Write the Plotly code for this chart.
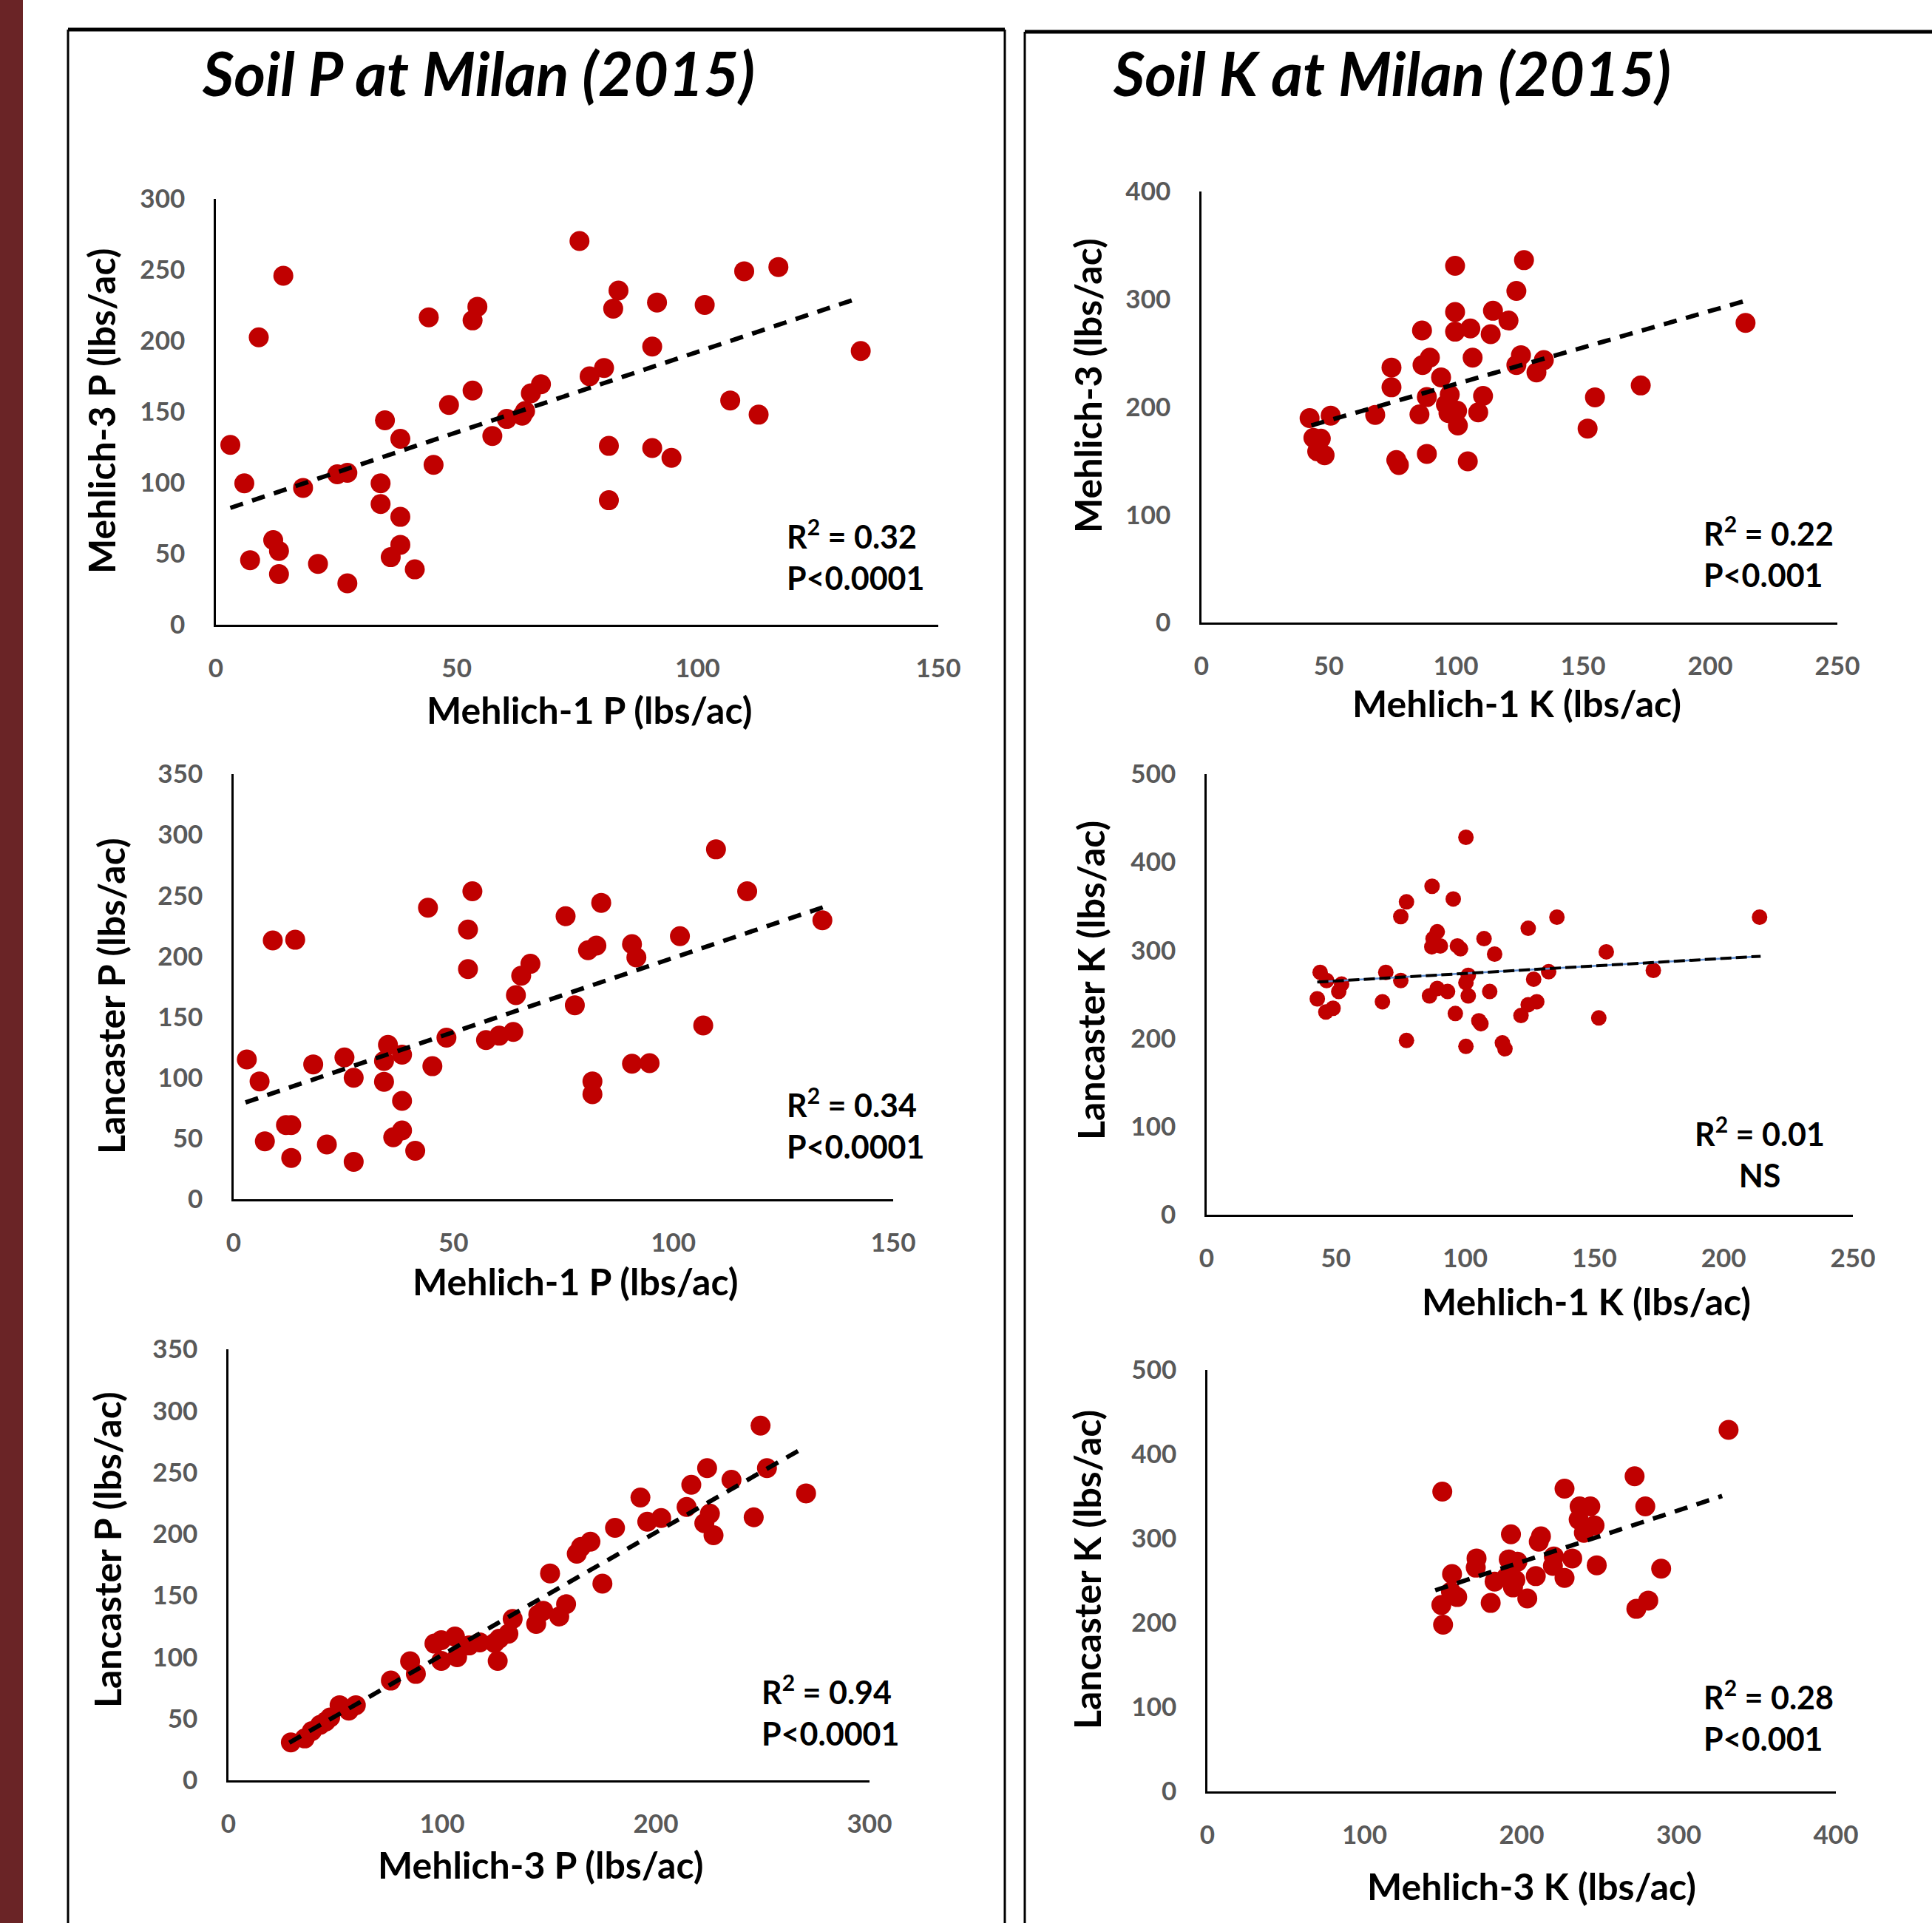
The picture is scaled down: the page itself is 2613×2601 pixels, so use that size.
import plotly.graph_objects as go

W, H = 2613, 2601

# ---------------- Soil P data (shared observations) ----------------
m1p = [3.0, 5.9, 7.1, 8.9, 14.0, 11.9, 13.1, 13.1, 18.1, 21.2, 25.2, 27.3, 27.3, 34.2, 34.2,
       35.1, 36.3, 38.3, 38.3, 38.3, 41.3, 44.2, 45.2, 48.4, 53.3, 53.3, 54.3, 57.4, 60.4, 63.6,
       64.2, 65.4, 67.5, 75.5, 77.6, 80.6, 81.6, 81.6, 82.5, 83.6, 90.6, 90.6, 91.6, 94.6, 101.5,
       106.8, 109.7, 112.7, 116.8, 133.9]
m3p = [126.7, 99.6, 45.5, 202.5, 245.8, 59.6, 52, 35.7, 96.4, 42.9, 106, 107, 29.2, 99.6, 85,
       144, 47.6, 131, 76, 56.3, 39, 216.6, 112.6, 154.8, 165, 214.4, 224, 133, 145, 147.3,
       150.5, 163, 169.4, 270.3, 175, 180.9, 126, 87.7, 222.7, 235.4, 124.5, 196, 227, 117.6, 225.3,
       158, 249, 148, 252, 192.8]
lanp = [115, 97, 47.7, 213, 213.6, 61, 61, 34, 111, 45, 116.7, 100, 30.8, 113.8, 96.7,
        127, 51, 119, 81, 56.6, 39.9, 240, 109.5, 133, 189.5, 222, 253.5, 131, 134.6, 137.7,
        168, 184, 193.8, 233, 159.7, 205, 97, 86.4, 208.8, 244, 111.5, 210, 199, 112, 216.5,
        143, 288, None, 253.5, 229.6]

# ---------------- Soil K data (read per panel) ----------------
m1k_a = [42.5, 50.8, 44.0, 46.9, 45.5, 48.4, 68.3, 74.7, 74.7, 76.6, 77.6, 86.7, 85.7, 88.6, 86.9,
         89.8, 88.6, 94.2, 97.6, 96.1, 97.1, 99.7, 99.7, 99.7, 100.5, 100.8, 104.7, 105.7, 106.6,
         108.8, 110.7, 113.7, 114.6, 120.7, 123.8, 123.8, 125.6, 126.8, 131.7, 134.6, 151.8, 154.7,
         172.7, 213.9]
m3k_a = [189.7, 192, 171.4, 170.7, 158.8, 155.3, 192.7, 236.6, 218.3, 150.7, 146.2, 271, 193.1,
         156.5, 239, 245.8, 209.2, 227.5, 211.5, 202.3, 194.3, 331, 288.2, 269.9, 196.6, 182.8,
         149.6, 272.9, 245.8, 195, 210.3, 267.6, 289.3, 280.2, 307.7, 239, 248.1, 336.3, 232.1,
         243.5, 180, 209, 220, 278]

m1k_b = [43.9, 46.4, 52.2, 51.1, 42.8, 46.1, 48.9, 69.3, 68.0, 75.1, 77.3, 75.1, 77.3, 87.2, 95.4,
         89.2, 87.6, 87.1, 90.4, 97.0, 98.2, 107.3, 111.4, 124.4, 135.5, 100.3, 101.2, 100.3, 89.2,
         93.2, 86.2, 101.2, 109.5, 126.5, 132.3, 96.2, 105.3, 106.1, 121.6, 124.4, 127.7, 100.3,
         114.4, 115.4, 154.6, 151.7, 172.8, 213.9]
lank_b = [275, 265.7, 261.7, 253.3, 245, 230, 234.3, 275, 241.7, 265.7, 355, 338.3, 197.7, 372.7,
          358.3, 321, 313.3, 304, 305, 305, 301.7, 313.3, 295.7, 325, 337.7, 428.3, 271.7, 263.3,
          256.7, 253.3, 248.3, 248.3, 253.3, 267.3, 275.7, 228.3, 220, 216.7, 226, 238.3, 241.7,
          191, 195, 188.3, 298.3, 223.3, 277.3, 337.7]

m3k_c = [149.5, 150.0, 148.9, 155.7, 159.0, 155.0, 171.3, 170.8, 180.3, 193.2, 191.8, 197.3, 182.8,
         190.4, 194.5, 196.0, 203.6, 209.0, 210.9, 212.3, 219.9, 220.5, 227.3, 232.2, 227.3, 236.9,
         243.7, 236.3, 246.4, 239.6, 247.8, 271.9, 278.7, 288.8, 280.6, 273.0, 331.7]
lank_c = [355.7, 197.8, 221.2, 257.9, 230.6, 237, 276.4, 265.5, 223.6, 305, 275.3, 272.5, 249,
          254.4, 242, 250.9, 228.9, 255.4, 296.3, 302.6, 267.6, 278.8, 253.3, 276.4, 359.2, 338.2,
          338.2, 322.5, 315.5, 306.8, 268.3, 373.9, 338.2, 264.2, 226.4, 216.6, 429]

# ---------------- trendline end points ----------------
fit_tl_x, fit_tl_y = [3.0, 133.0], [82.3, 229.6]
fit_ml_x, fit_ml_y = [2.7, 134.0], [79.7, 240.3]
fit_bl_x, fit_bl_y = [28.5, 267.3], [30.6, 268.2]
fit_tr_x, fit_tr_y = [43.2, 214.0], [182.9, 298.6]
fit_mr_x, fit_mr_y = [42.8, 214.3], [264.0, 293.3]
fit_br_x, fit_br_y = [145.0, 327.6], [238.6, 350.5]

# ---------------- text ----------------
titles = ["Soil P at Milan (2015)", "Soil K at Milan (2015)"]
x_titles = ["Mehlich-1 P (lbs/ac)", "Mehlich-1 P (lbs/ac)", "Mehlich-3 P (lbs/ac)",
            "Mehlich-1 K (lbs/ac)", "Mehlich-1 K (lbs/ac)", "Mehlich-3 K (lbs/ac)"]
y_titles = ["Mehlich-3 P (lbs/ac)", "Lancaster P (lbs/ac)", "Lancaster P (lbs/ac)",
            "Mehlich-3 (lbs/ac)", "Lancaster K (lbs/ac)", "Lancaster K (lbs/ac)"]
stats = ["R<sup>2</sup> = 0.32<br>P&lt;0.0001", "R<sup>2</sup> = 0.34<br>P&lt;0.0001",
         "R<sup>2</sup> = 0.94<br>P&lt;0.0001", "R<sup>2</sup> = 0.22<br>P&lt;0.001",
         "R<sup>2</sup> = 0.01<br>NS", "R<sup>2</sup> = 0.28<br>P&lt;0.001"]
x_ticks = [[0, 50, 100, 150], [0, 50, 100, 150], [0, 100, 200, 300],
           [0, 50, 100, 150, 200, 250], [0, 50, 100, 150, 200, 250], [0, 100, 200, 300, 400]]
y_ticks = [[0, 50, 100, 150, 200, 250, 300], [0, 50, 100, 150, 200, 250, 300, 350],
           [0, 50, 100, 150, 200, 250, 300, 350], [0, 100, 200, 300, 400],
           [0, 100, 200, 300, 400, 500], [0, 100, 200, 300, 400, 500]]

RED = "#C00000"
FONT = "Lato"


def fx(p):
    return p / W


def fy(p):
    return 1 - p / H


# panel layout in pixels: (x_left, x_right, y_bottom, y_top)
panels = [
    dict(px=(292, 1269), py=(845, 269), data=(m1p, m3p), fit=(fit_tl_x, fit_tl_y), ms=27,
         xt=(797, 960), yt=(137, 556), st=(1062, 750, "left"), lw=6),
    dict(px=(316, 1208), py=(1622, 1047), data=(m1p, lanp), fit=(fit_ml_x, fit_ml_y), ms=27,
         xt=(778, 1733), yt=(150, 1347), st=(1062, 1520, "left"), lw=6),
    dict(px=(309, 1176), py=(2408, 1825), data=(m3p, lanp), fit=(fit_bl_x, fit_bl_y), ms=27,
         xt=(731, 2522), yt=(145, 2096), st=(1028, 2313, "left"), lw=6),
    dict(px=(1625, 2485), py=(842, 259), data=(m1k_a, m3k_a), fit=(fit_tr_x, fit_tr_y), ms=27,
         xt=(2051, 951), yt=(1471, 522), st=(2302, 746, "left"), lw=6),
    dict(px=(1632, 2506), py=(1643, 1047), data=(m1k_b, lank_b), fit=(fit_mr_x, fit_mr_y), ms=21,
         xt=(2145, 1760), yt=(1475, 1326), st=(2380, 1558, "center"), lw=4),
    dict(px=(1633, 2483), py=(2423, 1853), data=(m3k_c, lank_c), fit=(fit_br_x, fit_br_y), ms=27,
         xt=(2071, 2551), yt=(1470, 2123), st=(2302, 2320, "left"), lw=6),
]

fig = go.Figure()
annotations = []
layout = {}

for i, p in enumerate(panels):
    k = i + 1
    xa = "x" if k == 1 else f"x{k}"
    ya = "y" if k == 1 else f"y{k}"
    xt_vals, yt_vals = x_ticks[i], y_ticks[i]
    layout["xaxis" if k == 1 else f"xaxis{k}"] = dict(
        domain=[fx(p["px"][0]), fx(p["px"][1])], range=[0, xt_vals[-1]], anchor=ya,
        showline=True, linecolor="black", linewidth=2.5, showgrid=False, zeroline=False,
        automargin=False, ticks="", tickvals=xt_vals, ticklabelstandoff=26,
        tickfont=dict(family=FONT, size=35, color="#595959", weight="bold"))
    layout["yaxis" if k == 1 else f"yaxis{k}"] = dict(
        domain=[fy(p["py"][0]), fy(p["py"][1])], range=[0, yt_vals[-1]], anchor=xa,
        showline=True, linecolor="black", linewidth=2.5, showgrid=False, zeroline=False,
        automargin=False, ticks="", tickvals=yt_vals, ticklabelstandoff=32,
        tickfont=dict(family=FONT, size=35, color="#595959", weight="bold"))

    xs, ys = p["data"]
    fig.add_trace(go.Scatter(x=xs, y=ys, mode="markers", xaxis=xa, yaxis=ya,
                             marker=dict(color=RED, size=p["ms"], line=dict(width=0)),
                             cliponaxis=False, hoverinfo="skip"))
    if i == 4:
        fig.add_trace(go.Scatter(x=p["fit"][0], y=p["fit"][1], mode="lines", xaxis=xa, yaxis=ya,
                                 line=dict(color="#5B8BD0", width=2.5), hoverinfo="skip"))
        dash = "15px,6px"
    else:
        dash = "18px,13px"
    fig.add_trace(go.Scatter(x=p["fit"][0], y=p["fit"][1], mode="lines", xaxis=xa, yaxis=ya,
                             line=dict(color="black", width=p["lw"], dash=dash),
                             hoverinfo="skip"))

    annotations.append(dict(x=fx(p["xt"][0]), y=fy(p["xt"][1]), xref="paper", yref="paper",
                            text=x_titles[i], showarrow=False, xanchor="center", yanchor="middle",
                            font=dict(family=FONT, size=50, color="black", weight="bold")))
    annotations.append(dict(x=fx(p["yt"][0]), y=fy(p["yt"][1]), xref="paper", yref="paper",
                            text=y_titles[i], showarrow=False, xanchor="center", yanchor="middle",
                            textangle=-90,
                            font=dict(family=FONT, size=50, color="black", weight="bold")))
    sx, sy, al = p["st"]
    annotations.append(dict(x=fx(sx), y=fy(sy), xref="paper", yref="paper", text=stats[i],
                            showarrow=False, xanchor=al, yanchor="middle", align=al,
                            font=dict(family=FONT, size=43, color="black", weight="bold")))

for t, cx in zip(titles, [647, 1882]):
    annotations.append(dict(x=fx(cx), y=fy(98), xref="paper", yref="paper", text=t,
                            showarrow=False, xanchor="center", yanchor="middle",
                            font=dict(family=FONT, size=82, color="black", weight="bold",
                                      style="italic")))

shapes = [
    dict(type="rect", xref="paper", yref="paper", x0=0, x1=fx(31), y0=0, y1=1,
         fillcolor="#6A2426", line=dict(width=0), layer="below"),
    # left panel box
    dict(type="line", xref="paper", yref="paper", x0=fx(92), x1=fx(1359), y0=fy(40), y1=fy(40),
         line=dict(color="black", width=5)),
    dict(type="line", xref="paper", yref="paper", x0=fx(92), x1=fx(92), y0=fy(40), y1=0,
         line=dict(color="black", width=3)),
    dict(type="line", xref="paper", yref="paper", x0=fx(1359), x1=fx(1359), y0=fy(40), y1=0,
         line=dict(color="black", width=3)),
    # right panel box
    dict(type="line", xref="paper", yref="paper", x0=fx(1386), x1=1, y0=fy(43), y1=fy(43),
         line=dict(color="black", width=5)),
    dict(type="line", xref="paper", yref="paper", x0=fx(1386), x1=fx(1386), y0=fy(43), y1=0,
         line=dict(color="black", width=3)),
]

fig.update_layout(**layout)
fig.update_layout(width=W, height=H, autosize=False,
                  margin=dict(l=0, r=0, t=0, b=0, pad=0, autoexpand=False),
                  paper_bgcolor="white", plot_bgcolor="rgba(0,0,0,0)", showlegend=False,
                  annotations=annotations, shapes=shapes)

page_fix = """
var gd = document.getElementById('{plot_id}');
var de = document.documentElement, bd = document.body;
de.style.margin = '0'; de.style.padding = '0'; de.style.overflow = 'hidden';
bd.style.margin = '0'; bd.style.padding = '0'; bd.style.overflow = 'hidden';
if (gd) { gd.style.position = 'fixed'; gd.style.left = '0px'; gd.style.top = '0px'; }
"""

fig.write_html("out.html", config={"displayModeBar": False}, post_script=page_fix)
